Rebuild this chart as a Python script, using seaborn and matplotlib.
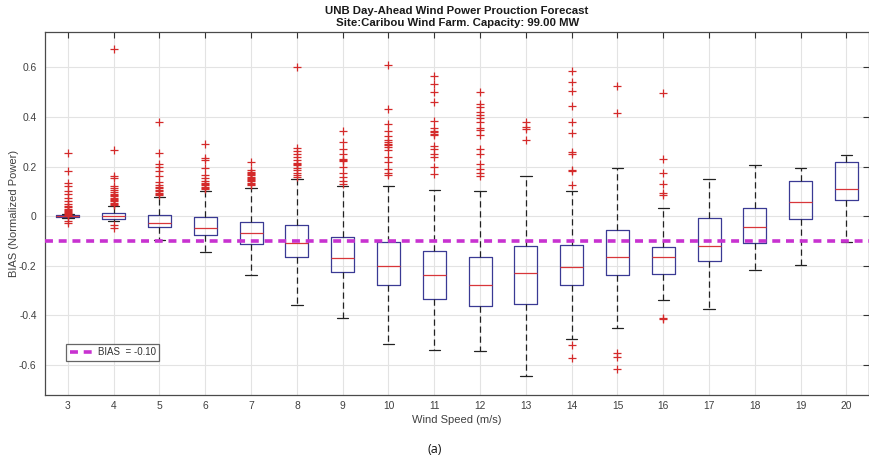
import matplotlib
matplotlib.use("Agg")
import matplotlib.pyplot as plt
from matplotlib.ticker import FuncFormatter
from matplotlib.lines import Line2D
import seaborn as sns
import pandas as pd

# Wind speed bins (m/s)
speeds = [3, 4, 5, 6, 7, 8, 9, 10, 11, 12, 13, 14, 15, 16, 17, 18, 19, 20]

# Box statistics of the normalized bias per wind speed bin
q1 = [-0.002, -0.012, -0.044, -0.076, -0.112, -0.166, -0.224, -0.279, -0.335,
      -0.362, -0.353, -0.277, -0.236, -0.235, -0.180, -0.108, -0.012, 0.067]
medians = [0.000, 0.001, -0.026, -0.046, -0.070, -0.108, -0.168, -0.200, -0.236,
           -0.277, -0.231, -0.207, -0.164, -0.164, -0.120, -0.043, 0.056, 0.111]
q3 = [0.003, 0.012, 0.004, -0.004, -0.023, -0.037, -0.086, -0.103, -0.142,
      -0.166, -0.120, -0.118, -0.056, -0.124, -0.008, 0.032, 0.140, 0.218]
whisker_low = [-0.008, -0.018, -0.096, -0.146, -0.236, -0.357, -0.409, -0.517, -0.541,
               -0.544, -0.647, -0.496, -0.452, -0.338, -0.373, -0.219, -0.196, -0.104]
whisker_high = [0.010, 0.042, 0.079, 0.103, 0.112, 0.148, 0.123, 0.123, 0.104,
                0.100, 0.162, 0.100, 0.195, 0.031, 0.150, 0.207, 0.194, 0.248]

# Outlying points per bin
outliers = [
    [0.254, 0.182, 0.132, 0.122, 0.100, 0.089, 0.075, 0.061, 0.050, 0.041, 0.036,
     0.030, 0.025, 0.020, 0.015, 0.012, 0.008, 0.004, 0.001, -0.020, -0.028],
    [0.673, 0.265, 0.161, 0.152, 0.120, 0.113, 0.105, 0.098, 0.090, 0.085, 0.080,
     0.075, 0.070, 0.065, 0.060, 0.055, 0.050, 0.046, -0.035, -0.046],
    [0.381, 0.254, 0.212, 0.200, 0.183, 0.161, 0.139, 0.125, 0.119, 0.113, 0.107,
     0.100, 0.095, 0.089, 0.085],
    [0.290, 0.235, 0.228, 0.195, 0.168, 0.155, 0.140, 0.132, 0.128, 0.124, 0.119,
     0.115, 0.110],
    [0.220, 0.185, 0.180, 0.175, 0.170, 0.165, 0.160, 0.155, 0.150, 0.145, 0.140,
     0.135, 0.130, 0.125],
    [0.602, 0.275, 0.262, 0.250, 0.240, 0.228, 0.215, 0.210, 0.205, 0.195, 0.185,
     0.175, 0.165, 0.158],
    [0.343, 0.299, 0.270, 0.252, 0.232, 0.228, 0.224, 0.199, 0.176, 0.159, 0.143,
     0.129],
    [0.608, 0.434, 0.370, 0.342, 0.322, 0.306, 0.298, 0.292, 0.287, 0.281, 0.266,
     0.239, 0.219, 0.192, 0.175, 0.166],
    [0.566, 0.533, 0.500, 0.459, 0.383, 0.357, 0.345, 0.338, 0.330, 0.326, 0.282,
     0.272, 0.252, 0.239, 0.199, 0.172],
    [0.503, 0.453, 0.439, 0.422, 0.410, 0.397, 0.379, 0.357, 0.349, 0.329, 0.269,
     0.252, 0.210, 0.192, 0.175, 0.162],
    [0.379, 0.360, 0.350, 0.309],
    [0.584, 0.541, 0.506, 0.446, 0.379, 0.335, 0.259, 0.252, 0.188, 0.183, 0.125,
     -0.520, -0.573],
    [0.526, 0.418, -0.552, -0.567, -0.616],
    [0.496, 0.232, 0.175, 0.129, 0.092, 0.085, -0.410, -0.415],
    [],
    [],
    [],
    [],
]

mean_bias = -0.10
y_ticks = [-0.6, -0.4, -0.2, 0, 0.2, 0.4, 0.6]

sns.set_theme(style="whitegrid")
plt.rcParams["font.family"] = ["Liberation Sans", "DejaVu Sans"]
plt.rcParams["axes.unicode_minus"] = False

fig = plt.figure(figsize=(8.70, 4.71), dpi=100)
ax = fig.add_axes([0.0517, 0.1620, 0.9476, 0.7700])
ax.set_facecolor("white")

box_color = "#3a3a94"
stats = []
for i, s in enumerate(speeds):
    stats.append(dict(med=medians[i], q1=q1[i], q3=q3[i],
                      whislo=whisker_low[i], whishi=whisker_high[i],
                      fliers=[], label=str(s)))

ax.bxp(stats, positions=speeds, widths=0.5, showfliers=False,
       capwidths=0.25,
       boxprops=dict(color=box_color, linewidth=0.9),
       medianprops=dict(color="#d8363a", linewidth=0.9),
       whiskerprops=dict(color="#222222", linewidth=0.9,
                         linestyle=(0, (5, 3))),
       capprops=dict(color="#222222", linewidth=0.9),
       manage_ticks=False)

# Outlying points as red crosses
out_df = pd.DataFrame(
    [(s, v) for s, vals in zip(speeds, outliers) for v in vals],
    columns=["speed", "bias"])
sns.scatterplot(data=out_df, x="speed", y="bias", marker="+", color="#d42a2a",
                s=30, linewidth=0.9, ax=ax, zorder=3, legend=False)

# Overall mean bias
ax.axhline(mean_bias, color="#c832d0", linewidth=2.6,
           linestyle=(0, (2.2, 1.6)), zorder=4)

ax.set_xlim(2.5, 20.5)
ax.set_ylim(-0.7205, 0.743)
ax.set_xticks(speeds)
ax.set_xticklabels([str(s) for s in speeds])
ax.set_yticks(y_ticks)
ax.yaxis.set_major_formatter(FuncFormatter(lambda v, p: "%g" % round(v, 2)))

ax.grid(True, color="#e3e3e3", linewidth=0.8)
for side in ["left", "bottom", "top", "right"]:
    ax.spines[side].set_visible(True)
    ax.spines[side].set_color("#4a4a4a")
    ax.spines[side].set_linewidth(0.9)

ax.tick_params(axis="both", which="major", direction="in", length=4,
               width=0.8, color="#333333", labelsize=7.4, labelcolor="#404040",
               top=True, right=True)
ax.tick_params(axis="x", pad=4.5)
ax.tick_params(axis="y", pad=6)

ax.set_xlabel("Wind Speed (m/s)", fontsize=8, color="#404040", labelpad=3)
ax.set_ylabel("BIAS (Normalized Power)", fontsize=8, color="#404040", labelpad=0)

ax.set_title("UNB Day-Ahead Wind Power Prouction Forecast\n"
             "Site:Caribou Wind Farm. Capacity: 99.00 MW",
             pad=4.5, linespacing=1.22, fontweight="bold", fontsize=8.2,
             color="#1a1a1a")

handle = Line2D([0], [0], color="#c832d0", linewidth=2.6,
                linestyle=(0, (2.2, 1.6)))
leg = ax.legend([handle], ["BIAS  = -0.10"], loc="lower left",
                bbox_to_anchor=(0.026, 0.094), borderaxespad=0, fontsize=7,
                frameon=True, fancybox=False, handlelength=2.6,
                handletextpad=0.3, borderpad=0.35, labelcolor="#333333")
leg.get_frame().set_edgecolor("#404040")
leg.get_frame().set_linewidth(0.9)

fig.text(0.5, 0.045, "(a)", ha="center", va="center", fontsize=9,
         family=["Open Sans", "DejaVu Sans"], color="#111111")

fig.savefig("out.png", dpi=100, facecolor="white")
